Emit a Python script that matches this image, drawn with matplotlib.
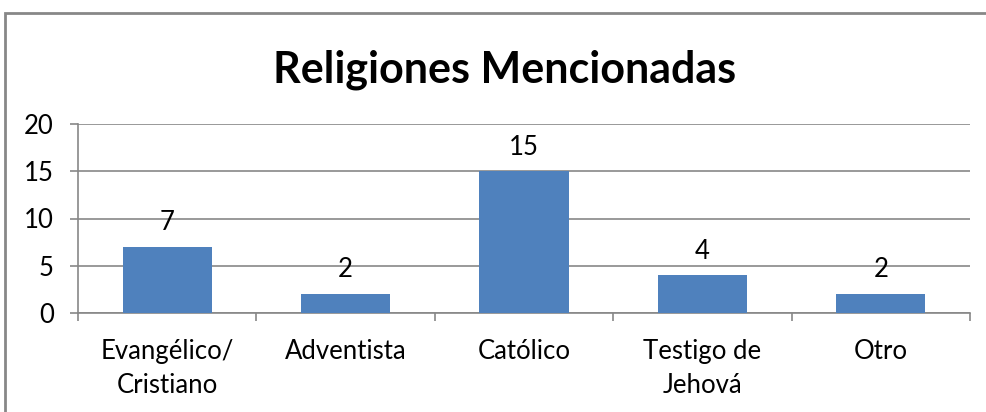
import matplotlib
matplotlib.use("Agg")
import matplotlib.pyplot as plt
from matplotlib.patches import Rectangle

categories = ["Evangélico/\nCristiano", "Adventista", "Católico", "Testigo de\nJehová", "Otro"]
values = [7, 2, 15, 4, 2]
yticks = [0, 5, 10, 15, 20]
title = "Religiones Mencionadas"

W, H = 986, 412
fig = plt.figure(figsize=(W / 100, H / 100), dpi=100)
font = ["Lato", "DejaVu Sans"]
fs = 18.5

# outer chart border
fig.patches.append(Rectangle((5 / W, -0.1), 1.2, (H - 13) / H + 0.1, transform=fig.transFigure,
                             fill=False, edgecolor="#878787", linewidth=2))

ax = fig.add_axes([78 / W, (H - 313) / H, (970 - 78) / W, (313 - 124) / H])
x = list(range(len(categories)))
ax.bar(x, values, width=0.5, color="#4F81BD", zorder=3)
ax.set_xlim(-0.5, len(categories) - 0.5)
ax.set_ylim(0, 20)
ax.set_yticks(yticks)
ax.set_yticklabels([str(t) for t in yticks], fontsize=fs, family=font)
ax.yaxis.grid(True, color="#878787", linewidth=1.2, zorder=0)
ax.set_axisbelow(True)

ax.set_xticks([i - 0.5 for i in range(len(categories) + 1)])
ax.set_xticklabels([])
ax.set_xticks(x, minor=True)
ax.set_xticklabels(categories, minor=True, fontsize=fs, family=font, linespacing=1.45)
ax.tick_params(axis="x", which="minor", length=0, pad=19)
ax.tick_params(axis="x", which="major", length=5.5, color="#878787", width=1.2)
ax.tick_params(axis="y", length=5.5, color="#878787", width=1.2, pad=12)

for s in ["top", "right"]:
    ax.spines[s].set_visible(False)
for s in ["left", "bottom"]:
    ax.spines[s].set_color("#878787")
    ax.spines[s].set_linewidth(1.2)

for xi, v in zip(x, values):
    ax.annotate(str(v), (xi, v), xytext=(0, 12), textcoords="offset points",
                ha="center", va="baseline", fontsize=fs, family=font)

fig.text(505 / W, (H - 70) / H, title, ha="center", va="center", fontsize=31,
         fontweight="bold", family=font)

fig.savefig("out.png", dpi=100)
